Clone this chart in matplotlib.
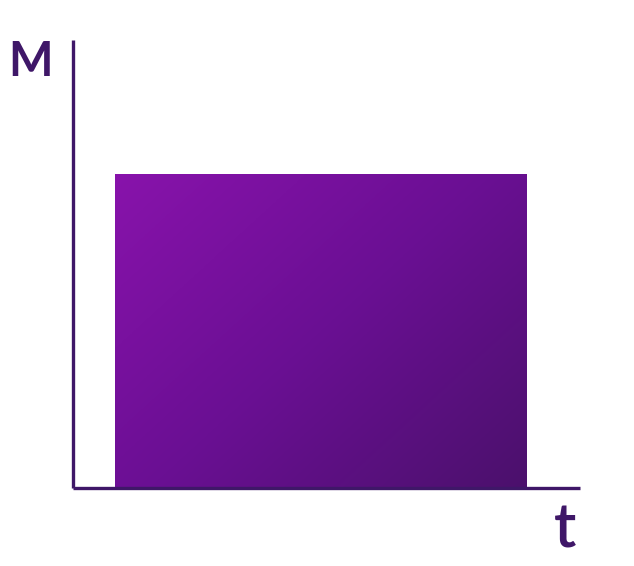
"""Mass over time: constant block drawn as a gradient bar."""

import matplotlib
matplotlib.use("Agg")
import matplotlib.pyplot as plt
import numpy as np
from matplotlib.colors import LinearSegmentedColormap

# --- data ---
t_start = [1.0]
t_end = [10.75]
mass = [0.70]
x_label = "t"
y_label = "M"

W, H = 634, 566
AX_COLOR = "#3f1768"

fig = plt.figure(figsize=(W / 100, H / 100), dpi=100)
ax = fig.add_axes([73 / W, (H - 488) / H, 507 / W, 448 / H])
ax.set_xlim(0, 12)
ax.set_ylim(0, 1)

for s in ("top", "right"):
    ax.spines[s].set_visible(False)
for s in ("left", "bottom"):
    ax.spines[s].set_color(AX_COLOR)
    ax.spines[s].set_linewidth(2.4)
    ax.spines[s].set_capstyle("butt")
ax.set_xticks([])
ax.set_yticks([])

# gradient fill, lighter at the top-left corner
cmap = LinearSegmentedColormap.from_list("purp", ["#8813ab", "#6a0f93", "#4b116c"])
gx, gy = np.meshgrid(np.linspace(0, 1, 200), np.linspace(0, 1, 200))
grad = (gx * 0.6 + gy * 0.5) / 1.1
for x0, x1, m in zip(t_start, t_end, mass):
    bar = ax.bar(x0, m, width=x1 - x0, align="edge", color="none", edgecolor="none")[0]
    img = ax.imshow(grad, cmap=cmap, extent=(x0, x1, m, 0), origin="lower",
                    aspect="auto", interpolation="bicubic", zorder=1)
    img.set_clip_path(bar)
ax.set_xlim(0, 12)
ax.set_ylim(0, 1)

fig.text(31 / W, 1 - 76 / H, y_label, fontsize=34, fontweight="bold",
         color=AX_COLOR, family="Lato", ha="center", va="baseline")
fig.text(565 / W, 1 - 548 / H, x_label, fontsize=44, fontweight="semibold",
         color=AX_COLOR, family="Lato", ha="center", va="baseline")

fig.savefig("out.png", dpi=100)
